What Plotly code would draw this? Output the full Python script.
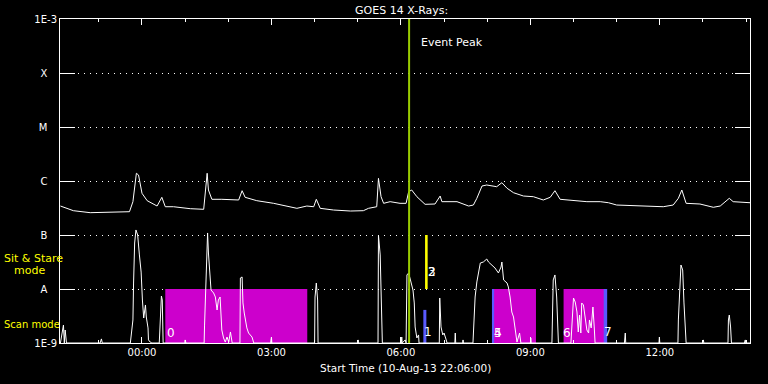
import numpy as np
import pandas as pd
import plotly.graph_objects as go

# ---------------- data ----------------
base_day = "2013-08-11 00:00:00"
x_start = "2013-08-10 22:06:00"
x_end = "2013-08-11 14:05:24"

# long-wavelength channel (hours after 00:00 on 11-Aug, W/m^2)
upper_h = [-1.89, -1.59, -1.20, -0.58, -0.29, -0.21, -0.13, -0.08, 0.00, 0.12,
           0.35, 0.46, 0.54, 0.73, 1.12, 1.43, 1.51, 1.54, 1.62, 1.85,
           2.09, 2.24, 2.32, 2.39, 2.66, 3.05, 3.59, 3.82, 3.98, 4.04,
           4.13, 4.44, 4.83, 5.13, 5.25, 5.44, 5.48, 5.54, 5.60, 5.75,
           5.98, 6.12, 6.18, 6.25, 6.37, 6.56, 6.79, 6.91, 6.95, 7.30,
           7.57, 7.68, 7.76, 7.88, 7.99, 8.22, 8.34, 8.46, 8.61, 8.84,
           9.07, 9.30, 9.46, 9.57, 9.69, 10.00, 10.31, 10.62, 10.81, 11.00,
           11.39, 12.08, 12.31, 12.43, 12.51, 12.61, 12.93, 13.24, 13.40, 13.61,
           13.70, 14.09]
upper_flux = [3.44e-7, 2.82e-7, 2.59e-7, 2.67e-7, 2.70e-7, 4.14e-7, 1.39e-6, 1.29e-6, 5.92e-7, 4.32e-7,
              3.44e-7, 4.99e-7, 3.34e-7, 3.34e-7, 3.07e-7, 2.99e-7, 1.39e-6, 6.81e-7, 4.58e-7, 4.58e-7,
              4.58e-7, 4.45e-7, 6.61e-7, 4.99e-7, 4.32e-7, 3.86e-7, 3.12e-7, 3.44e-7, 3.34e-7, 4.58e-7,
              3.12e-7, 2.90e-7, 2.78e-7, 2.82e-7, 3.12e-7, 3.34e-7, 1.12e-6, 5.12e-7, 3.86e-7, 4.14e-7,
              3.86e-7, 3.86e-7, 6.34e-7, 6.81e-7, 5.12e-7, 3.70e-7, 3.75e-7, 5.27e-7, 4.14e-7, 4.14e-7,
              3.44e-7, 3.59e-7, 4.78e-7, 8.08e-7, 8.43e-7, 7.84e-7, 9.30e-7, 7.33e-7, 6.07e-7, 5.27e-7,
              5.12e-7, 4.45e-7, 4.99e-7, 6.61e-7, 4.58e-7, 4.32e-7, 4.14e-7, 4.14e-7, 3.96e-7, 3.59e-7,
              3.49e-7, 3.34e-7, 3.59e-7, 4.78e-7, 6.81e-7, 3.86e-7, 3.75e-7, 3.26e-7, 3.44e-7, 4.78e-7,
              4.14e-7, 3.96e-7]

# short-wavelength channel
lower_h = ([-1.89, -1.82, -1.80, -1.78, -1.75, -0.97, -0.94, -0.92]
           + [-0.27, -0.25, -0.21, -0.195, -0.17, -0.14, -0.10, -0.06, -0.02, 0.01, 0.04, 0.08, 0.10, 0.14, 0.15, 0.19, 0.23]
           + [0.40, 0.42, 0.44, 0.45, 0.47, 0.49, 0.99, 1.00, 1.02]
           + [1.44, 1.45, 1.48, 1.51, 1.52, 1.54, 1.57, 1.60, 1.66, 1.70, 1.74, 1.77, 1.81, 1.83, 1.85, 1.89, 1.93, 1.97, 2.01, 2.05, 2.09]
           + [2.27, 2.28, 2.32, 2.34, 2.37, 2.43, 2.47, 2.55, 2.59, 2.98, 3.00, 3.01]
           + [4.00, 4.01, 4.04, 4.07, 4.08, 5.00, 5.01, 5.02, 5.47, 5.48, 5.52, 5.56, 5.57]
           + [6.01, 6.02, 6.03, 6.10, 6.12, 6.14, 6.18, 6.23, 6.28, 6.31, 6.33, 6.37, 6.41, 6.42]
           + [6.89, 6.90, 6.93, 6.97, 7.00, 7.05, 7.07, 7.25, 7.26, 7.27, 7.43, 7.44, 7.45]
           + [7.67, 7.68, 7.72, 7.76, 7.80, 7.84, 7.91, 7.99, 8.03, 8.11, 8.18, 8.26, 8.32, 8.34, 8.38, 8.46, 8.49, 8.53, 8.57, 8.61, 8.65, 8.69, 8.75, 8.78]
           + [9.00, 9.01, 9.02, 9.50, 9.53, 9.57, 9.61, 9.65]
           + [9.94, 9.96, 10.00, 10.04, 10.08, 10.11, 10.14, 10.17, 10.19, 10.23, 10.27, 10.31, 10.35, 10.37, 10.41, 10.45, 10.48, 10.50]
           + [11.18, 11.20, 11.21, 11.98, 11.99, 12.00, 12.42, 12.43, 12.49, 12.53, 12.56, 12.59, 12.61]
           + [13.00, 13.01, 13.02, 13.58, 13.59, 13.61, 13.64, 13.66, 13.96, 13.98, 13.99, 14.09])
lower_flux = ([1e-9, 2.15e-9, 1e-9, 1.74e-9, 1e-9, 1e-9, 1.19e-9, 1e-9]
              + [1e-9, 1.41e-9, 2.67e-9, 1.29e-8, 7.11e-8, 1.24e-7, 1.0e-7, 4.27e-8, 2.06e-8, 6.25e-9, 2.90e-9, 5.06e-9, 3.03e-9, 1.90e-9, 1.14e-9, 1.04e-9, 1e-9]
              + [1e-9, 1.90e-9, 5.51e-9, 7.42e-9, 6.25e-9, 1e-9, 1e-9, 1.14e-9, 1e-9]
              + [1e-9, 2.15e-9, 1.60e-8, 8.08e-8, 1.09e-7, 4.64e-8, 1.60e-8, 9.58e-9, 8.43e-9, 7.11e-9, 4.08e-9, 6.25e-9, 7.11e-9, 3.03e-9, 1.74e-9, 1.24e-9, 1.04e-9, 1.29e-9, 1.04e-9, 1.60e-9, 1e-9]
              + [1e-9, 1.60e-8, 1.67e-8, 5.51e-9, 3.59e-9, 1.90e-9, 1.53e-9, 1.29e-9, 1e-9, 1e-9, 1.29e-9, 1e-9]
              + [1e-9, 7.11e-9, 1.29e-8, 6.25e-9, 1e-9, 1e-9, 1.14e-9, 1e-9, 1e-9, 1.0e-7, 4.27e-8, 4.08e-9, 1e-9]
              + [1e-9, 1.29e-9, 1e-9, 1.14e-9, 1e-9, 1.82e-8, 1.98e-8, 1.35e-8, 9.58e-9, 5.51e-9, 1.98e-9, 1.24e-9, 1.41e-9, 1e-9]
              + [1e-9, 6.81e-9, 1.98e-9, 1.41e-9, 1.53e-9, 1.14e-9, 1e-9, 1e-9, 1.53e-9, 1e-9, 1e-9, 1.14e-9, 1e-9]
              + [1e-9, 1.60e-9, 7.11e-9, 1.35e-8, 1.98e-8, 3.03e-8, 3.16e-8, 3.59e-8, 3.16e-8, 2.78e-8, 2.45e-8, 1.98e-8, 2.55e-8, 3.16e-8, 1.47e-8, 1.29e-8, 1.09e-8, 7.11e-9, 3.75e-9, 3.03e-9, 1.74e-9, 1.04e-9, 1.53e-9, 1e-9]
              + [1e-9, 1.24e-9, 1e-9, 1e-9, 1.47e-8, 1.82e-8, 7.11e-9, 1e-9]
              + [1e-9, 2.35e-9, 6.81e-9, 5.74e-9, 3.75e-9, 1.60e-9, 3.30e-9, 1.53e-9, 5.51e-9, 5.06e-9, 3.03e-9, 1.74e-9, 1.53e-9, 2.67e-9, 1.90e-9, 4.64e-9, 1.98e-9, 1e-9]
              + [1e-9, 1.53e-9, 1e-9, 1e-9, 1.29e-9, 1e-9, 1e-9, 2.67e-9, 2.78e-8, 2.25e-8, 5.51e-9, 1.53e-9, 1e-9]
              + [1e-9, 1.14e-9, 1e-9, 1e-9, 2.67e-9, 3.30e-9, 1.98e-9, 1e-9, 1e-9, 1.14e-9, 1e-9, 1e-9])

# scan-mode observations (magenta)
scan_start_h = [0.54, 8.12, 9.77]
scan_end_h = [3.83, 9.13, 10.72]
scan_low, scan_high = 1e-9, 1e-8

# short scans (blue)
blue_start_h = [6.52, 8.11, 10.70]
blue_end_h = [6.59, 8.16, 10.78]
blue_top = [4.1e-9, 1e-8, 1e-8]

# sit & stare observation (yellow)
stare_start_h = [6.56]
stare_end_h = [6.62]
stare_low, stare_high = 1e-8, 1e-7

event_peak_h = 6.19

obs_labels = ["0", "1", "2", "3", "4", "5", "6", "7"]
obs_h = [0.67, 6.63, 6.72, 6.72, 8.25, 8.25, 9.86, 10.80]
obs_flux = [1.53e-9, 1.6e-9, 2.06e-8, 2.06e-8, 1.53e-9, 1.53e-9, 1.53e-9, 1.6e-9]

y_tickvals = [1e-9, 1e-8, 1e-7, 1e-6, 1e-5, 1e-4, 1e-3]
y_ticktext = ["1E-9", "A", "B", "C", "M", "X", "1E-3"]

# ---------------- helpers ----------------
base = pd.Timestamp(base_day)


def tm(h):
    return base + pd.to_timedelta(h, unit="h")


def ts(h):
    return tm(h).strftime("%Y-%m-%d %H:%M:%S")


FONT = "DejaVu Sans"
NB = "\u00a0"
ytext = [t if len(t) > 1 else t + NB * 3 for t in y_ticktext]

fig = go.Figure()


def add_box(s, e, lo, hi, color):
    fig.add_trace(go.Scatter(x=[ts(s), ts(s), ts(e), ts(e), ts(s)], y=[lo, hi, hi, lo, lo],
                             mode="lines", fill="toself", fillcolor=color,
                             line=dict(width=0, color=color), hoverinfo="skip"))


for s, e in zip(scan_start_h, scan_end_h):
    add_box(s, e, scan_low, scan_high, "#cc00cc")
for s, e, top in zip(blue_start_h, blue_end_h, blue_top):
    add_box(s, e, scan_low, top, "#5a5aff")
for s, e in zip(stare_start_h, stare_end_h):
    add_box(s, e, stare_low, stare_high, "#ffff00")

fig.add_trace(go.Scatter(x=tm(upper_h), y=upper_flux, mode="lines",
                         line=dict(color="white", width=1), hoverinfo="skip"))
fig.add_trace(go.Scatter(x=tm(lower_h), y=lower_flux, mode="lines",
                         line=dict(color="white", width=1), hoverinfo="skip"))

shapes = [dict(type="line", xref="x", yref="paper", x0=ts(event_peak_h), x1=ts(event_peak_h),
               y0=0, y1=1, line=dict(color="#99cc00", width=2), layer="above")]

annotations = []
for lab, h, f in zip(obs_labels, obs_h, obs_flux):
    annotations.append(dict(x=ts(h), y=np.log10(f), xref="x", yref="y", text=lab,
                            showarrow=False, font=dict(family=FONT, size=12, color="white")))
annotations.append(dict(x=ts(event_peak_h), y=-3.44, xref="x", yref="y", text="Event Peak",
                        xanchor="left", xshift=10, showarrow=False,
                        font=dict(family=FONT, size=11, color="white")))
annotations.append(dict(x=-0.084, y=-7.43, xref="paper", yref="y", text="Sit & Stare",
                        xanchor="left", showarrow=False,
                        font=dict(family=FONT, size=11, color="#ffff00")))
annotations.append(dict(x=-0.069, y=-7.65, xref="paper", yref="y", text="mode",
                        xanchor="left", showarrow=False,
                        font=dict(family=FONT, size=11, color="#ffff00")))
annotations.append(dict(x=-0.084, y=-8.65, xref="paper", yref="y", text="Scan mode",
                        xanchor="left", showarrow=False,
                        font=dict(family=FONT, size=10, color="#ffff00")))
annotations.append(dict(x=0.5, y=-0.077, xref="paper", yref="paper",
                        text="Start Time (10-Aug-13 22:06:00)", showarrow=False,
                        yanchor="middle", font=dict(family=FONT, size=10.5, color="white")))

fig.update_layout(
    width=768, height=384,
    margin=dict(l=60, r=18, t=19, b=41),
    paper_bgcolor="black", plot_bgcolor="black",
    showlegend=False, hovermode=False,
    font=dict(family=FONT, size=10, color="white"),
    title=dict(text="GOES 14 X-Rays:", x=0.523, xanchor="center", y=0.974, yanchor="middle",
               font=dict(family=FONT, size=11, color="white")),
    shapes=shapes, annotations=annotations,
)
fig.update_xaxes(
    type="date", range=[x_start, x_end],
    showline=True, linecolor="white", linewidth=1, mirror="ticks",
    showgrid=False, zeroline=False,
    ticks="inside", ticklen=6, tickcolor="white", tickwidth=1,
    tick0=base_day, dtick=3 * 3600000, tickformat="%H:%M",
    tickfont=dict(family=FONT, size=10, color="white"),
    minor=dict(ticks="inside", ticklen=3, tickcolor="white", dtick=3600000, showgrid=False),
)
fig.update_yaxes(
    type="log", range=[-9, -3],
    showline=True, linecolor="white", linewidth=1, mirror="ticks",
    tickvals=y_tickvals, ticktext=ytext,
    ticks="inside", ticklen=15, tickcolor="white", tickwidth=1,
    showgrid=True, gridcolor="white", gridwidth=1, griddash="1px,5px",
    zeroline=False,
    tickfont=dict(family=FONT, size=10, color="white"),
)

fig.write_html("out.html", config={"displayModeBar": False},
               post_script="document.body.style.margin='0px';")
